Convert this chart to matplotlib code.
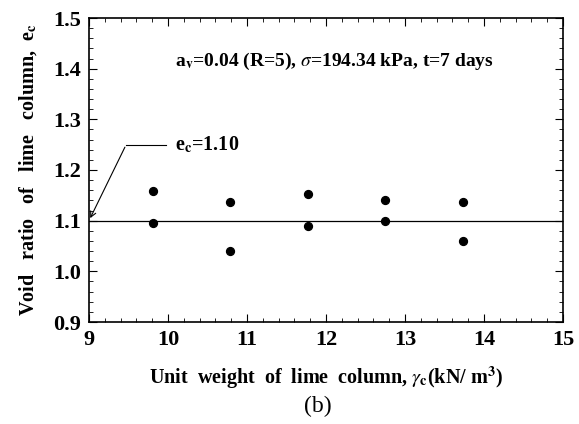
import matplotlib.pyplot as plt
from matplotlib.ticker import MultipleLocator

# unit weight of lime column (kN/m3) and void ratio
unit_weight = [9.81, 9.81, 10.79, 10.79, 11.77, 11.77, 12.75, 12.75, 13.73, 13.73]
void_ratio = [1.159, 1.096, 1.136, 1.040, 1.153, 1.090, 1.140, 1.100, 1.137, 1.060]
ec_line = 1.10

plt.rcParams['font.family'] = ['Liberation Serif', 'DejaVu Serif']
plt.rcParams['mathtext.fontset'] = 'stix'

fig = plt.figure(figsize=(5.79, 4.24), dpi=100)
ax = fig.add_axes([89 / 579, 1 - 322 / 424, (563 - 89) / 579, (322 - 18) / 424])

ax.scatter(unit_weight, void_ratio, s=32, color='black', zorder=3)
ax.axhline(ec_line, color='black', lw=0.9)

# leader line for the e_c label
ax.plot([9.47, 9.98], [1.25, 1.25], color='black', lw=0.8)
ax.annotate('', xy=(9.0, 1.1), xytext=(9.47, 1.25),
            arrowprops=dict(arrowstyle='->', color='black', lw=0.8))
ax.text(10.09, 1.25, r'e$_{\mathbf{c}}$=1.10', fontsize=14.5, fontweight='bold', va='center')

ax.text(10.09, 1.415,
        r'a$_{\mathbf{v}}$=0.04 (R=5), $\sigma$=194.34 kPa, t=7 days',
        fontsize=14, fontweight='bold', va='center')

ax.set_xlim(9, 15)
ax.set_ylim(0.9, 1.5)
ax.xaxis.set_major_locator(MultipleLocator(1))
ax.xaxis.set_minor_locator(MultipleLocator(0.2))
ax.yaxis.set_major_locator(MultipleLocator(0.1))
ax.yaxis.set_minor_locator(MultipleLocator(0.02))
ax.yaxis.set_major_formatter(plt.FormatStrFormatter('%.1f'))
ax.tick_params(which='both', direction='in', top=True, right=True)
ax.tick_params(which='major', length=6, labelsize=16, pad=6)
ax.tick_params(which='minor', length=3)
for lab in ax.get_xticklabels() + ax.get_yticklabels():
    lab.set_fontweight('bold')
for sp in ax.spines.values():
    sp.set_linewidth(1.2)

ax.set_xlabel(r'Unit  weight  of  lime  column, $\gamma_{\mathbf{c}}$(kN/ m$^{\mathbf{3}}$)',
              fontsize=14.5, fontweight='bold', labelpad=10)
ax.set_ylabel(r'Void   ratio   of   lime   column,  e$_{\mathbf{c}}$',
              fontsize=14.5, fontweight='bold', labelpad=10)

fig.text(318 / 579, 1 - 406 / 424, '(b)', fontsize=17, ha='center', va='center')

fig.savefig('out.png', dpi=100)
